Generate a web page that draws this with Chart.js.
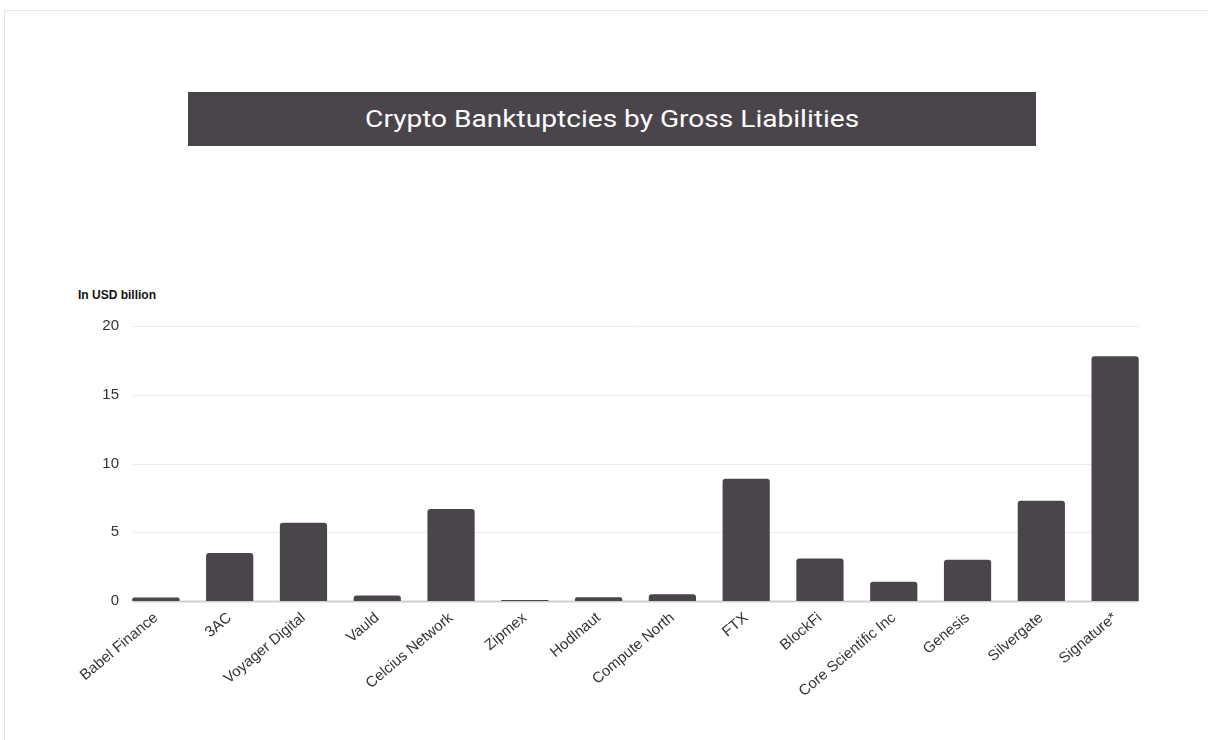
<!DOCTYPE html>
<html>
<head>
<meta charset="utf-8">
<script src="https://cdn.jsdelivr.net/npm/chart.js@4.4.1/dist/chart.umd.min.js"></script>
<style>
  html, body { margin: 0; padding: 0; background: #fff; }
  #wrap { position: relative; width: 1208px; height: 740px; overflow: hidden; }
  #frame { position: absolute; left: 4px; top: 10px; right: 0; bottom: 0;
           border-top: 1px solid #e6e6e6; border-left: 1px solid #e6e6e6; }
  #title { position: absolute; left: 188px; top: 92px; width: 848px; height: 54px;
           background: #4a454b; color: #fff; font-family: Roboto, sans-serif;
           font-size: 24px; line-height: 54px; text-align: center; }
  #title span { display: inline-block; transform: scaleX(1.17); }
  #unit { position: absolute; left: 78px; top: 288px; font-family: "Liberation Sans", Arial, sans-serif;
          font-weight: bold; font-size: 12px; color: #111; }
  canvas { position: absolute; left: 0; top: 0; }
</style>
</head>
<body>
<div id="wrap">
  <div id="frame"></div>
  <div id="title"><span>Crypto Banktuptcies by Gross Liabilities</span></div>
  <div id="unit">In USD billion</div>
  <canvas id="chart" width="1208" height="740"></canvas>
</div>
<script>
// Gross liabilities, USD billion
const companies = ["Babel Finance", "3AC", "Voyager Digital", "Vauld", "Celcius Network", "Zipmex",
  "Hodlnaut", "Compute North", "FTX", "BlockFi", "Core Scientific Inc", "Genesis", "Silvergate", "Signature*"];
const liabilities = [0.25, 3.5, 5.7, 0.4, 6.7, 0.08, 0.28, 0.5, 8.9, 3.1, 1.4, 3.0, 7.3, 17.8];
const yTicks = [0, 5, 10, 15, 20];

const barColor = "#4a454b";

// grid lines only span from the first bar to the last one
const gridPlugin = {
  id: "barGrid",
  beforeDatasetsDraw(chart) {
    const bars = chart.getDatasetMeta(0).data;
    if (!bars.length) return;
    const first = bars[0], last = bars[bars.length - 1];
    const x0 = first.x - first.width / 2;
    const x1 = last.x + last.width / 2;
    const y = chart.scales.y;
    const ctx = chart.ctx;
    ctx.save();
    yTicks.forEach(v => {
      const py = Math.round(y.getPixelForValue(v)) + 0.5;
      ctx.strokeStyle = v === 0 ? "#cfcfcf" : "#ebebeb";
      ctx.lineWidth = v === 0 ? 2 : 1;
      ctx.beginPath();
      ctx.moveTo(x0, py);
      ctx.lineTo(x1, py);
      ctx.stroke();
    });
    ctx.restore();
  }
};

new Chart(document.getElementById("chart"), {
  type: "bar",
  data: {
    labels: companies,
    datasets: [{
      data: liabilities,
      backgroundColor: barColor,
      borderRadius: 3,
      borderSkipped: "bottom",
      categoryPercentage: 1,
      barPercentage: 0.64
    }]
  },
  options: {
    responsive: false,
    animation: false,
    layout: { padding: { top: 326, right: 56, left: 0, bottom: 0 } },
    plugins: {
      legend: { display: false },
      tooltip: { enabled: false }
    },
    scales: {
      x: {
        grid: { display: false, drawTicks: false },
        border: { display: false },
        afterFit: s => { s.height = 139; },
        ticks: {
          minRotation: 40,
          maxRotation: 40,
          autoSkip: false,
          padding: 8,
          color: "#333",
          font: { family: "Liberation Sans, Arial, sans-serif", size: 15 }
        }
      },
      y: {
        min: 0,
        max: 20,
        afterFit: s => { s.width = 119; },
        afterBuildTicks: s => { s.ticks = yTicks.map(v => ({ value: v })); },
        grid: { display: false, drawTicks: false },
        border: { display: false },
        ticks: {
          padding: 0,
          color: "#333",
          font: { family: "Liberation Sans, Arial, sans-serif", size: 15 }
        }
      }
    }
  },
  plugins: [gridPlugin]
});
</script>
</body>
</html>
